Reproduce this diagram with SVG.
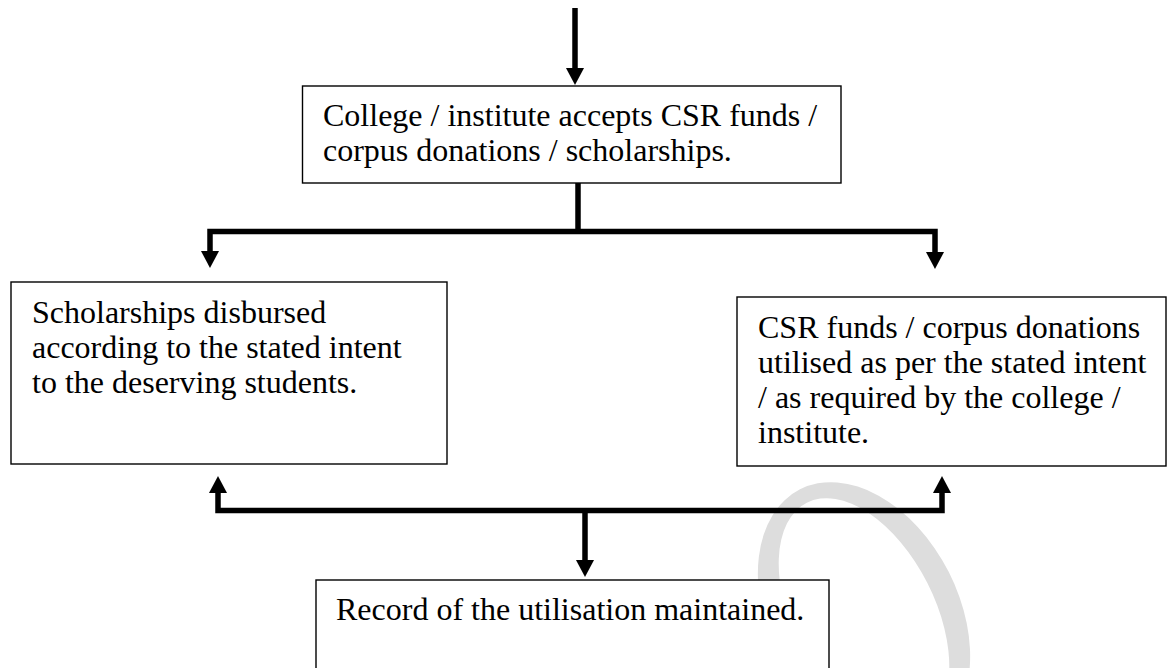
<svg xmlns="http://www.w3.org/2000/svg" width="1169" height="668" viewBox="0 0 1169 668">
  <style>
    .box { fill: #ffffff; stroke: #000000; stroke-width: 1.4; }
    .lbl { font-family: "Liberation Serif", "Times New Roman", serif; font-size: 32px; fill: #000000; }
    .conn { fill: none; stroke: #000000; stroke-width: 5.5; stroke-linejoin: miter; stroke-linecap: butt; }
    .wm { fill: #dddddd; fill-rule: evenodd; }
  </style>
  <defs>
    <marker id="ah" viewBox="0 0 17 18" refX="0" refY="9" markerWidth="17" markerHeight="18" markerUnits="userSpaceOnUse" orient="auto-start-reverse">
      <path d="M0,0 L17,9 L0,18 Z" fill="#000000"/>
    </marker>
  </defs>
  <rect width="1169" height="668" fill="#ffffff"/>

  <g id="watermark" transform="translate(864,615) rotate(-27)">
    <path class="wm" d="M0,-141 A95,141 0 1,1 0,141 A95,141 0 1,1 0,-141 Z M0,-126 A71,126 0 1,0 0,126 A71,126 0 1,0 0,-126 Z"/>
  </g>

  <g id="node-accept">
    <rect class="box" x="302.5" y="86" width="538.5" height="97"/>
    <text class="lbl" x="323" y="126">College / institute accepts CSR funds /</text>
    <text class="lbl" x="323" y="161">corpus donations / scholarships.</text>
  </g>

  <g id="node-scholarships">
    <rect class="box" x="11" y="282" width="436" height="182"/>
    <text class="lbl" x="32" y="323">Scholarships disbursed</text>
    <text class="lbl" x="32" y="358">according to the stated intent</text>
    <text class="lbl" x="32" y="393">to the deserving students.</text>
  </g>

  <g id="node-csr">
    <rect class="box" x="737" y="297" width="429" height="169"/>
    <text class="lbl" x="758" y="338">CSR funds / corpus donations</text>
    <text class="lbl" x="758" y="373">utilised as per the stated intent</text>
    <text class="lbl" x="758" y="408">/ as required by the college /</text>
    <text class="lbl" x="758" y="443">institute.</text>
  </g>

  <g id="node-record">
    <rect class="box" x="316" y="580" width="513" height="120"/>
    <text class="lbl" x="336" y="620">Record of the utilisation maintained.</text>
  </g>

  <g id="connectors">
    <path class="conn" d="M575,8 V68" marker-end="url(#ah)"/>
    <path class="conn" d="M578,183 V231.5"/>
    <path class="conn" d="M210,251 V231.5 H935 V252" marker-start="url(#ah)" marker-end="url(#ah)"/>
    <path class="conn" d="M218,493 V510.5 H942 V493" marker-start="url(#ah)" marker-end="url(#ah)"/>
    <path class="conn" d="M585,510.5 V560" marker-end="url(#ah)"/>
  </g>
</svg>
